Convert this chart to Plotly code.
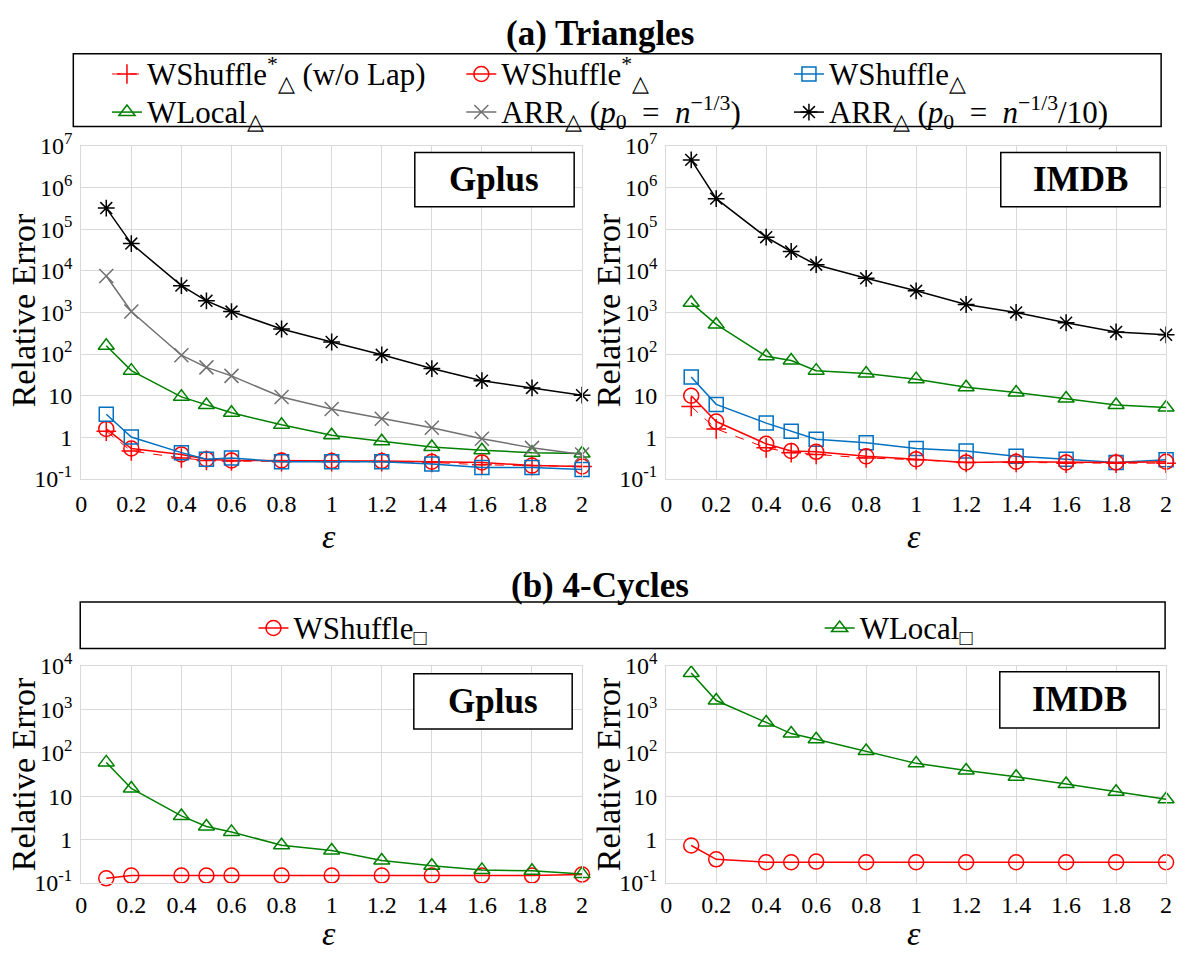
import plotly.graph_objects as go

# privacy budget values on the x axis
eps = [0.1, 0.2, 0.4, 0.5, 0.6, 0.8, 1.0, 1.2, 1.4, 1.6, 1.8, 2.0]

# (a) triangle counting, Gplus
gplus_tri_wshuffle_star_nolap = [1.4, 0.47, 0.32, 0.28, 0.27, 0.26, 0.26, 0.26, 0.25, 0.22, 0.21, 0.20]
gplus_tri_wshuffle_star = [1.6, 0.54, 0.39, 0.30, 0.28, 0.28, 0.27, 0.27, 0.26, 0.25, 0.21, 0.20]
gplus_tri_wshuffle = [3.6, 1.02, 0.43, 0.30, 0.32, 0.26, 0.26, 0.26, 0.23, 0.19, 0.19, 0.17]
gplus_tri_wlocal = [158, 40, 9.4, 6.0, 3.9, 2.0, 1.12, 0.81, 0.59, 0.49, 0.43, 0.41]
gplus_tri_arr = [7500, 1050, 94, 48, 30, 9.3, 4.8, 2.8, 1.7, 0.93, 0.56, 0.39]
gplus_tri_arr10 = [3.2e5, 4.5e4, 4400, 1900, 1050, 400, 195, 96, 45, 23, 15.4, 10.3]

# (a) triangle counting, IMDB
imdb_tri_wshuffle_star_nolap = [5.5, 1.6, 0.56, 0.43, 0.39, 0.32, 0.29, 0.25, 0.25, 0.24, 0.24, 0.24]
imdb_tri_wshuffle_star = [10, 2.4, 0.70, 0.47, 0.45, 0.35, 0.30, 0.25, 0.26, 0.25, 0.25, 0.26]
imdb_tri_wshuffle = [28, 6.2, 2.2, 1.4, 0.9, 0.74, 0.54, 0.47, 0.35, 0.30, 0.25, 0.29]
imdb_tri_wlocal = [1700, 515, 89, 70, 40, 34, 25, 16, 12, 8.6, 6.0, 5.2]
imdb_tri_arr10 = [4.6e6, 5.4e5, 6.4e4, 2.9e4, 1.4e4, 6600, 3300, 1550, 1000, 565, 340, 290]

# (b) 4-cycle counting
gplus_cyc_wshuffle = [0.128, 0.148, 0.148, 0.148, 0.148, 0.148, 0.148, 0.148, 0.148, 0.148, 0.148, 0.156]
gplus_cyc_wlocal = [60, 15, 3.5, 2.0, 1.5, 0.74, 0.56, 0.33, 0.25, 0.20, 0.19, 0.16]
imdb_cyc_wshuffle = [0.73, 0.35, 0.30, 0.30, 0.31, 0.30, 0.30, 0.30, 0.30, 0.30, 0.30, 0.30]
imdb_cyc_wlocal = [6900, 1600, 500, 277, 205, 110, 57, 39, 28, 19, 12.6, 8.5]

# tick labels
x_ticks = [0, 0.2, 0.4, 0.6, 0.8, 1.0, 1.2, 1.4, 1.6, 1.8, 2.0]
x_tick_text = ["0", "0.2", "0.4", "0.6", "0.8", "1", "1.2", "1.4", "1.6", "1.8", "2"]
y_ticks_tri = [0.1, 1, 10, 1e2, 1e3, 1e4, 1e5, 1e6, 1e7]
y_tick_text_tri = ["10<sup>-1</sup>", "1", "10", "10<sup>2</sup>", "10<sup>3</sup>",
                   "10<sup>4</sup>", "10<sup>5</sup>", "10<sup>6</sup>", "10<sup>7</sup>"]
y_ticks_cyc = [0.1, 1, 10, 1e2, 1e3, 1e4]
y_tick_text_cyc = ["10<sup>-1</sup>", "1", "10", "10<sup>2</sup>", "10<sup>3</sup>", "10<sup>4</sup>"]

# series names (legend entries are set a little larger than the row pitch)
EQ = "\u2002=\u2002"


def entry(s):
    return '<span style="font-size:31px">' + s + "</span>"


name_nolap = entry("WShuffle<sup>*</sup><sub>△</sub> (w/o Lap)")
name_star = entry("WShuffle<sup>*</sup><sub>△</sub>")
name_wshuffle = entry("WShuffle<sub>△</sub>")
name_wlocal = entry("WLocal<sub>△</sub>")
name_arr = entry("ARR<sub>△</sub> (<i>p</i><sub>0</sub>" + EQ + "<i>n</i><sup>−1/3</sup>)")
name_arr10 = entry("ARR<sub>△</sub> (<i>p</i><sub>0</sub>" + EQ + "<i>n</i><sup>−1/3</sup>/10)")
name_cyc_wshuffle = entry("WShuffle<sub>□</sub>")
name_cyc_wlocal = entry("WLocal<sub>□</sub>")

SERIF = "Liberation Serif, Times New Roman, serif"
GRID = "#d9d9d9"
W, H = 1180, 956

RED = "#ff0000"
BLUE = "#0070c0"
GREEN = "#008000"
GRAY = "#707070"
BLACK = "#000000"

STYLE = {
    "nolap": dict(color=RED, symbol="cross-thin-open", size=14, dash="dash", width=1),
    "star": dict(color=RED, symbol="circle-open", size=15, dash="solid", width=1.5),
    "wshuffle": dict(color=BLUE, symbol="square-open", size=14, dash="solid", width=1.5),
    "wlocal": dict(color=GREEN, symbol="triangle-up-open", size=14, dash="solid", width=1.5),
    "arr": dict(color=GRAY, symbol="x-thin-open", size=14, dash="solid", width=1.5),
    "arr10": dict(color=BLACK, symbol="asterisk-open", size=14, dash="solid", width=1.5),
}


def series(y, name, key, xa, ya, legend=None):
    s = STYLE[key]
    return go.Scatter(
        x=eps, y=y, name=name, mode="lines+markers",
        xaxis=xa, yaxis=ya, legend=legend or "legend", showlegend=legend is not None,
        cliponaxis=False,
        line=dict(color=s["color"], width=s["width"], dash=s["dash"]),
        marker=dict(symbol=s["symbol"], size=s["size"], color=s["color"],
                    line=dict(color=s["color"], width=1.5)),
    )


fig = go.Figure()

# panel (a) Gplus -- legend entries are split into three columns
fig.add_trace(series(gplus_tri_wshuffle_star_nolap, name_nolap, "nolap", "x", "y", legend="legend"))
fig.add_trace(series(gplus_tri_wlocal, name_wlocal, "wlocal", "x", "y", legend="legend"))
fig.add_trace(series(gplus_tri_wshuffle_star, name_star, "star", "x", "y", legend="legend2"))
fig.add_trace(series(gplus_tri_arr, name_arr, "arr", "x", "y", legend="legend2"))
fig.add_trace(series(gplus_tri_wshuffle, name_wshuffle, "wshuffle", "x", "y", legend="legend3"))
fig.add_trace(series(gplus_tri_arr10, name_arr10, "arr10", "x", "y", legend="legend3"))

# panel (a) IMDB
fig.add_trace(series(imdb_tri_arr10, name_arr10, "arr10", "x2", "y2"))
fig.add_trace(series(imdb_tri_wlocal, name_wlocal, "wlocal", "x2", "y2"))
fig.add_trace(series(imdb_tri_wshuffle, name_wshuffle, "wshuffle", "x2", "y2"))
fig.add_trace(series(imdb_tri_wshuffle_star_nolap, name_nolap, "nolap", "x2", "y2"))
fig.add_trace(series(imdb_tri_wshuffle_star, name_star, "star", "x2", "y2"))

# panel (b) Gplus
fig.add_trace(series(gplus_cyc_wshuffle, name_cyc_wshuffle, "star", "x3", "y3", legend="legend4"))
fig.add_trace(series(gplus_cyc_wlocal, name_cyc_wlocal, "wlocal", "x3", "y3", legend="legend5"))

# panel (b) IMDB
fig.add_trace(series(imdb_cyc_wshuffle, name_cyc_wshuffle, "star", "x4", "y4"))
fig.add_trace(series(imdb_cyc_wlocal, name_cyc_wlocal, "wlocal", "x4", "y4"))


def px_x(p):
    return p / W


def px_y(p):
    return 1 - p / H


LEFT = [px_x(76), px_x(582)]
RIGHT = [px_x(667), px_x(1172)]
TOP = [px_y(477), px_y(133)]
BOTTOM = [px_y(894), px_y(670)]

tickfont = dict(family=SERIF, size=24, color="black")


def xaxis(domain, anchor, ticklen=3):
    return dict(domain=domain, anchor=anchor, range=[0, 2],
                tickmode="array", tickvals=x_ticks, ticktext=x_tick_text,
                showgrid=True, gridcolor=GRID, gridwidth=1.3, zeroline=False,
                showline=True, linecolor=GRID, linewidth=1.3, mirror=True,
                ticks="outside", ticklen=ticklen, tickcolor="rgba(0,0,0,0)",
                tickfont=tickfont)


def yaxis(domain, anchor, top_exp, vals, text):
    return dict(domain=domain, anchor=anchor, type="log", range=[-1, top_exp],
                tickmode="array", tickvals=vals, ticktext=text,
                showgrid=True, gridcolor=GRID, gridwidth=1.3, zeroline=False,
                showline=True, linecolor=GRID, linewidth=1.3, mirror=True,
                ticks="outside", ticklen=3, tickcolor="rgba(0,0,0,0)",
                tickfont=tickfont)


annotations = []
shapes = []


def text(x, y, s, size, bold=False, angle=0):
    annotations.append(dict(
        x=px_x(x), y=px_y(y), xref="paper", yref="paper", text=s,
        showarrow=False, textangle=angle, xanchor="center", yanchor="middle",
        font=dict(family=SERIF, size=size, color="black",
                  weight="bold" if bold else "normal")))


def box(x0, y0, x1, y1):
    shapes.append(dict(type="rect", xref="paper", yref="paper",
                       x0=px_x(x0), x1=px_x(x1), y0=px_y(y1), y1=px_y(y0),
                       line=dict(color="black", width=1.5), fillcolor="white",
                       layer="above"))


# section titles
text(600, 17, "(a) Triangles", 35, bold=True)
text(600, 587, "(b) 4-Cycles", 35, bold=True)

# legend frames
box(68, 38, 1167, 113)
box(75, 604, 1171, 652)

# dataset labels
box(413, 140, 574, 196)
text(493, 168, "Gplus", 35, bold=True)
box(1005, 140, 1166, 196)
text(1086, 168, "IMDB", 35, bold=True)
box(412, 678, 572, 735)
text(492, 707, "Gplus", 35, bold=True)
box(1004, 676, 1165, 734)
text(1085, 705, "IMDB", 35, bold=True)

# axis titles
for cx in (18, 609):
    text(cx, 303, "Relative Error", 34, angle=-90)
    text(cx, 782, "Relative Error", 34, angle=-90)
for cx in (326, 917):
    text(cx, 536, "<i>ε</i>", 34)
    text(cx, 946, "<i>ε</i>", 34)

legend_font = dict(family=SERIF, size=27, color="black")


def legend_at(x, y):
    return dict(orientation="v", x=px_x(x), y=px_y(y), xanchor="left", yanchor="top",
                font=legend_font, bgcolor="rgba(0,0,0,0)", borderwidth=0,
                traceorder="normal", tracegroupgap=0)


fig.update_layout(
    width=W, height=H,
    margin=dict(l=0, r=0, t=0, b=0),
    paper_bgcolor="white", plot_bgcolor="white",
    xaxis=xaxis(LEFT, "y"), yaxis=yaxis(TOP, "x", 7, y_ticks_tri, y_tick_text_tri),
    xaxis2=xaxis(RIGHT, "y2"), yaxis2=yaxis(TOP, "x2", 7, y_ticks_tri, y_tick_text_tri),
    xaxis3=xaxis(LEFT, "y3", ticklen=0), yaxis3=yaxis(BOTTOM, "x3", 4, y_ticks_cyc, y_tick_text_cyc),
    xaxis4=xaxis(RIGHT, "y4", ticklen=0), yaxis4=yaxis(BOTTOM, "x4", 4, y_ticks_cyc, y_tick_text_cyc),
    legend=legend_at(102, 34),
    legend2=legend_at(460, 34),
    legend3=legend_at(791, 34),
    legend4=legend_at(250, 606),
    legend5=legend_at(822, 606),
    annotations=annotations,
    shapes=shapes,
)

fig.write_html("out.html")
